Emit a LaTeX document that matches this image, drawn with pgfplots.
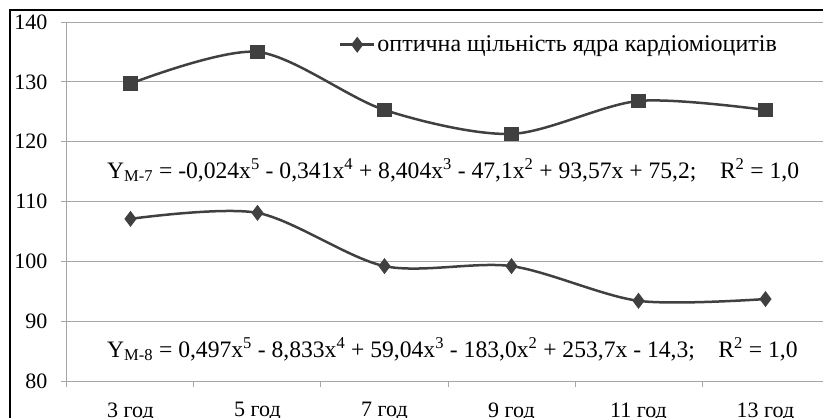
\documentclass[border=0pt]{standalone}
\usepackage{fontspec}
\setmainfont{Liberation Serif}
\usepackage{pgfplots}
\pgfplotsset{compat=1.18}
\newcommand\ft{\fontsize{22bp}{26bp}\selectfont}
\newcommand\fe{\fontsize{23.6bp}{27bp}\selectfont}
\newcommand\fl{\fontsize{24bp}{28bp}\selectfont}
\definecolor{ln}{HTML}{404040}
\definecolor{gr}{HTML}{A6A6A6}
\begin{document}
\begin{tikzpicture}
\begin{axis}[
  name=ax,
  width=762bp, height=359bp, scale only axis,
  xmin=-0.5, xmax=5.5, ymin=80, ymax=140,
  ytick={80,90,...,140},
  yticklabels={80,90,100,110,120,130,140},
  xtick={0,1,2,3,4,5},
  xticklabels={3 год,5 год,7 год,9 год,11 год,13 год},
  minor xtick={-0.5,0.5,...,5.5},
  every major x tick/.append style={draw=none},
  major tick length=6bp, minor tick length=6bp,
  tick align=outside, tick pos=left,
  ymajorgrids, grid style={gr, line width=1bp},
  axis line style={gr, line width=1bp},
  every tick/.append style={gr, line width=1bp},
  /pgf/number format/assume math mode=true,
  ticklabel style={font=\ft, text=black},
  yticklabel style={xshift=-10bp},
  xticklabel style={yshift=-12bp},
  legend style={font=\fl, draw=none, fill=none, inner sep=0pt,
    at={(axis cs:1.64,136.2)}, anchor=west},
  legend cell align=left,
  legend image code/.code={\draw[mark repeat=2,mark phase=2] plot coordinates {(0bp,0bp)(17bp,0bp)(34bp,0bp)};},
  clip=false,
]
\addplot[ln, line width=2.5bp, smooth, tension=0.5, mark=square*, mark size=6bp, mark options={solid}, forget plot]
  coordinates {(0,129.7) (1,135.0) (2,125.3) (3,121.3) (4,126.8) (5,125.3)};
\addplot[ln, line width=2.5bp, smooth, tension=0.5, mark=diamond*, mark size=6bp, mark options={solid}]
  coordinates {(0,107.1) (1,108.1) (2,99.2) (3,99.2) (4,93.4) (5,93.7)};
\addlegendentry{оптична щільність ядра кардіоміоцитів}
\node[anchor=west, font=\fe, inner sep=0pt] at (axis cs:-0.185,115.27)
  {Y\textsubscript{M-7} = -0,024x\textsuperscript{5} - 0,341x\textsuperscript{4} + 8,404x\textsuperscript{3} - 47,1x\textsuperscript{2} + 93,57x + 75,2;\quad R\textsuperscript{2} = 1,0};
\node[anchor=west, font=\fe, inner sep=0pt] at (axis cs:-0.185,85.35)
  {Y\textsubscript{M-8} = 0,497x\textsuperscript{5} - 8,833x\textsuperscript{4} + 59,04x\textsuperscript{3} - 183,0x\textsuperscript{2} + 253,7x - 14,3;\quad R\textsuperscript{2} = 1,0};
\draw[black, line width=1.6bp] (axis cs:-0.949,60) -- (axis cs:-0.949,142.0) -- (axis cs:6.5,142.0);
\end{axis}
\pgfresetboundingbox
\path[use as bounding box] ([shift={(-67bp,-37bp)}]ax.south west) rectangle ([shift={(756bp,381bp)}]ax.south west);
\end{tikzpicture}
\end{document}
